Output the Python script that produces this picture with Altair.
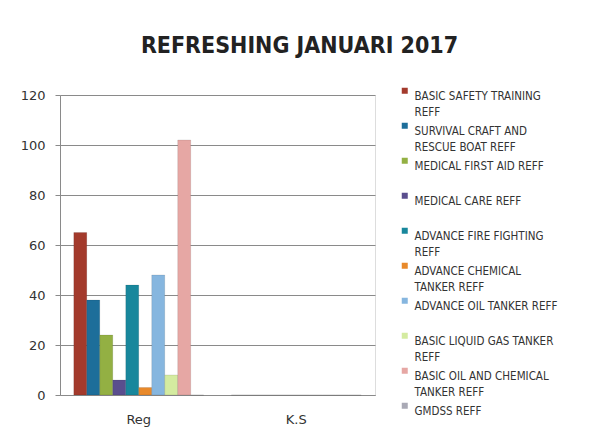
import altair as alt
import pandas as pd

title_text = "REFRESHING JANUARI 2017"
categories = ["Reg", "K.S"]
series = [
    "BASIC SAFETY TRAINING|REFF",
    "SURVIVAL CRAFT AND|RESCUE BOAT REFF",
    "MEDICAL FIRST AID REFF| ",
    "MEDICAL CARE REFF| ",
    "ADVANCE FIRE FIGHTING|REFF",
    "ADVANCE CHEMICAL|TANKER REFF",
    "ADVANCE OIL TANKER REFF| ",
    "BASIC LIQUID GAS TANKER|REFF",
    "BASIC OIL AND CHEMICAL|TANKER REFF",
    "GMDSS REFF| ",
]
reg_values = [65, 38, 24, 6, 44, 3, 48, 8, 102, 0]
ks_values = [0, 0, 0, 0, 0, 0, 0, 0, 0, 0]
colors = ["#a33a2c", "#1d6e9a", "#93b043", "#5a4e8e", "#18879c",
          "#e8892b", "#86b6df", "#d4eba0", "#e6a7a4", "#a9a9b5"]
y_ticks = [0, 20, 40, 60, 80, 100, 120]

rows = []
for cat, vals in zip(categories, [reg_values, ks_values]):
    for s, v in zip(series, vals):
        rows.append({"cat": cat, "series": s, "value": v})
df = pd.DataFrame(rows)

narrow = "DejaVu Sans Condensed, sans-serif"

chart = alt.Chart(df).mark_bar(stroke="#00000033", strokeWidth=0.5).encode(
    x=alt.X("cat:N", sort=categories, title=None,
            scale=alt.Scale(paddingInner=0.175, paddingOuter=0.0875),
            axis=alt.Axis(labelAngle=0, ticks=False, labelPadding=18,
                          labelFont="DejaVu Sans", labelFontSize=13,
                          labelColor="#333333", domainColor="#8a8a8a",
                          grid=False)),
    xOffset=alt.XOffset("series:N", sort=series,
                        scale=alt.Scale(paddingInner=0, paddingOuter=0)),
    y=alt.Y("value:Q", title=None,
            scale=alt.Scale(domain=[0, 120], nice=False),
            axis=alt.Axis(values=y_ticks, labelFont="DejaVu Sans", labelFontSize=13,
                          labelColor="#333333", domainColor="#8a8a8a",
                          tickColor="#8a8a8a", tickSize=5, labelPadding=10,
                          gridColor="#8a8a8a", gridWidth=1)),
    color=alt.Color("series:N", sort=series,
                    scale=alt.Scale(domain=series, range=colors),
                    legend=alt.Legend(orient="none", legendX=339, legendY=-10,
                                      title=None, symbolType="square",
                                      symbolSize=36, symbolStrokeWidth=0,
                                      labelFont=narrow, labelFontSize=11.5,
                                      labelColor="#333333", labelBaseline="top",
                                      labelOffset=4, rowPadding=1, padding=0,
                                      labelLimit=300,
                                      labelExpr="split(datum.label, '|')")),
).properties(
    width=315,
    height=300,
    padding={"left": 52, "top": 87, "right": 218, "bottom": 37},
    autosize=alt.AutoSizeParams(type="none"),
    background="#ffffff",
    title=alt.TitleParams(title_text, font=narrow, fontSize=23, fontWeight="bold",
                          color="#222222", anchor="middle", frame="group",
                          dx=82, offset=9, baseline="alphabetic"),
).configure_view(stroke=None).configure(
    style={"guide-label": {"lineHeight": 16}}
)

chart.save("out.html", embed_options={"renderer": "svg", "actions": False})
